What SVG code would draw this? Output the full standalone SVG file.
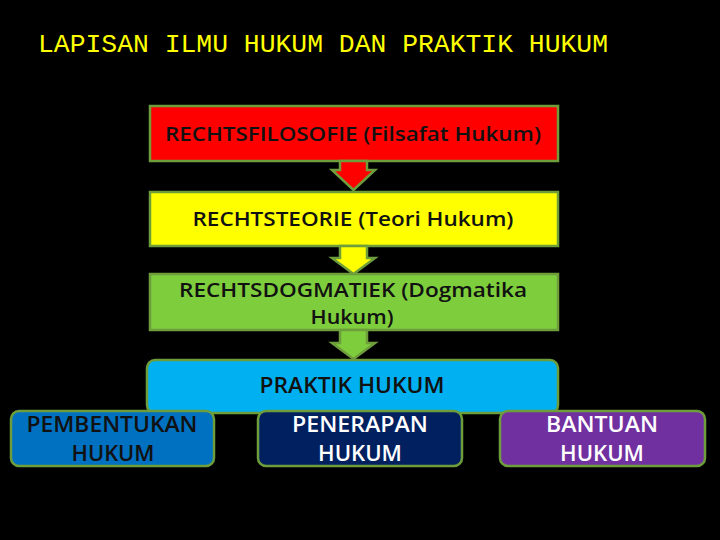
<svg xmlns="http://www.w3.org/2000/svg" width="720" height="540" viewBox="0 0 720 540">
<style>
.bx{stroke:#6e9e3c;stroke-width:2.5}
.ar{stroke:#6e9e3c;stroke-width:2.5;stroke-linejoin:miter}
.t{font-family:"Open Sans","Liberation Sans",sans-serif;font-size:19.5px;font-weight:600;fill:#111;text-anchor:middle}
.b{font-family:"Open Sans","Liberation Sans",sans-serif;font-size:21.5px;font-weight:600;text-anchor:middle}
</style>
<rect width="720" height="540" fill="#000"/>
<text x="38" y="52" font-family="Liberation Mono, monospace" font-size="26" fill="#ffff00" textLength="570" lengthAdjust="spacingAndGlyphs">LAPISAN ILMU HUKUM DAN PRAKTIK HUKUM</text>
<g id="rechtsfilosofie">
<rect class="bx" x="150" y="106" width="408" height="55" fill="#ff0000"/>
<text class="t" x="353" y="141" textLength="376" lengthAdjust="spacingAndGlyphs">RECHTSFILOSOFIE (Filsafat Hukum)</text>
</g>
<g id="rechtsteorie">
<rect class="bx" x="150" y="192" width="408" height="54" fill="#ffff00"/>
<text class="t" x="353" y="226" textLength="321" lengthAdjust="spacingAndGlyphs">RECHTSTEORIE (Teori Hukum)</text>
</g>
<g id="rechtsdogmatiek">
<rect class="bx" x="150" y="274" width="408" height="56" fill="#7ecd3c"/>
<text class="t" x="353" y="297" textLength="348" lengthAdjust="spacingAndGlyphs">RECHTSDOGMATIEK (Dogmatika</text>
<text class="t" x="352" y="324" textLength="83" lengthAdjust="spacingAndGlyphs">Hukum)</text>
</g>
<g id="praktik">
<rect class="bx" x="147" y="360" width="411" height="53" rx="8" fill="#00b0f0"/>
<text class="b" x="352" y="393" fill="#111" textLength="185" lengthAdjust="spacingAndGlyphs">PRAKTIK HUKUM</text>
</g>
<g id="pembentukan">
<rect class="bx" x="11" y="411" width="203" height="55" rx="8" fill="#0070c0"/>
<text class="b" x="112" y="432" fill="#111" textLength="171" lengthAdjust="spacingAndGlyphs">PEMBENTUKAN</text>
<text class="b" x="113" y="461" fill="#111" textLength="83" lengthAdjust="spacingAndGlyphs">HUKUM</text>
</g>
<g id="penerapan">
<rect class="bx" x="258" y="411" width="204" height="55" rx="8" fill="#002060"/>
<text class="b" x="360" y="432" fill="#fff" textLength="136" lengthAdjust="spacingAndGlyphs">PENERAPAN</text>
<text class="b" x="360" y="461" fill="#fff" textLength="84" lengthAdjust="spacingAndGlyphs">HUKUM</text>
</g>
<g id="bantuan">
<rect class="bx" x="500" y="411" width="205" height="55" rx="8" fill="#7030a0"/>
<text class="b" x="602" y="432" fill="#fff" textLength="112" lengthAdjust="spacingAndGlyphs">BANTUAN</text>
<text class="b" x="602" y="461" fill="#fff" textLength="84" lengthAdjust="spacingAndGlyphs">HUKUM</text>
</g>
<g id="connectors">
<polygon class="ar" fill="#ff0000" points="340,161 367,161 367,170 375,170 353.5,190 332,170 340,170"/>
<polygon class="ar" fill="#ffff00" points="340,246 367,246 367,258 375,258 353.5,274 332,258 340,258"/>
<polygon class="ar" fill="#7ecd3c" points="340,330 367,330 367,343 375,343 353.5,359 332,343 340,343"/>
</g>
</svg>
